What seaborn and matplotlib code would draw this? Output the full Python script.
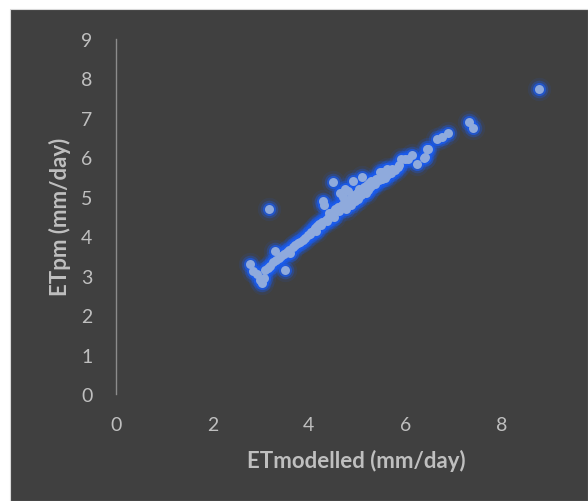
import matplotlib
matplotlib.use("Agg")
import matplotlib.pyplot as plt
import seaborn as sns
import pandas as pd
from matplotlib.patches import Rectangle

et_modelled = [2.78, 2.85, 2.92, 2.98, 3.02, 3.08, 3.10, 3.15, 3.20, 3.18, 3.25, 3.30, 3.32, 3.38,
               3.42, 3.48, 3.50, 3.55, 3.58, 3.62, 3.68, 3.72, 3.78, 3.82, 3.88, 3.92, 3.98, 4.02,
               4.05, 4.10, 4.12, 4.15, 4.18, 4.22, 4.25, 4.28, 4.30, 4.32, 4.35, 4.38, 4.40, 4.42,
               4.45, 4.48, 4.50, 4.52, 4.55, 4.50, 4.60, 4.62, 4.65, 4.68, 4.70, 4.72, 4.75, 4.78,
               4.80, 4.82, 4.85, 4.88, 4.90, 4.92, 4.95, 4.98, 5.00, 5.02, 5.05, 5.08, 5.10, 5.12,
               5.15, 5.18, 5.20, 5.22, 5.25, 5.28, 5.30, 5.32, 5.35, 5.38, 5.40, 5.45, 5.48, 5.52,
               5.52, 5.58, 5.62, 5.62, 5.65, 5.70, 5.72, 5.78, 5.85, 5.88, 5.92, 6.00, 6.05, 6.14,
               6.24, 6.39, 6.41, 6.45, 6.47, 6.66, 6.76, 6.89, 7.33, 7.40, 8.78]
et_pm = [3.30, 3.12, 3.05, 2.90, 2.82, 2.95, 3.15, 3.20, 3.25, 4.70, 3.35, 3.62, 3.40, 3.45,
         3.50, 3.55, 3.15, 3.60, 3.65, 3.58, 3.72, 3.78, 3.82, 3.85, 3.90, 3.95, 4.02, 4.05,
         4.10, 4.15, 4.20, 4.12, 4.25, 4.30, 4.28, 4.35, 4.90, 4.80, 4.40, 4.38, 4.45, 4.60,
         4.50, 4.55, 4.62, 4.48, 4.68, 5.37, 4.75, 4.65, 5.10, 4.80, 5.00, 4.85, 5.20, 4.70,
         4.90, 5.15, 4.95, 4.80, 5.05, 5.40, 4.90, 5.00, 5.10, 4.95, 5.20, 5.05, 5.50, 5.12,
         5.25, 5.10, 5.30, 5.18, 5.35, 5.25, 5.40, 5.30, 5.38, 5.32, 5.45, 5.42, 5.62, 5.63,
         5.46, 5.48, 5.71, 5.55, 5.65, 5.60, 5.70, 5.68, 5.76, 5.80, 5.95, 5.96, 5.95, 6.07,
         5.84, 5.99, 6.02, 6.22, 6.22, 6.47, 6.52, 6.62, 6.90, 6.75, 7.72]

x_ticks = [0, 2, 4, 6, 8, 10]
y_ticks = [0, 1, 2, 3, 4, 5, 6, 7, 8, 9]

df = pd.DataFrame({"ETmodelled": et_modelled, "ETpm": et_pm})

W, H = 588, 502
fig = plt.figure(figsize=(W / 100, H / 100), dpi=100)
fig.patch.set_facecolor("white")
bg = Rectangle((10 / W, 0), 1 - 10 / W, 1 - 10 / H, transform=fig.transFigure,
               facecolor="#404040", edgecolor="#d9d9d9", linewidth=0.8, zorder=-10)
fig.patches.append(bg)

AX_L, AX_R, AX_T, AX_B = 116, 598, 40, 395
ax = fig.add_axes([AX_L / W, (H - AX_B) / H, (AX_R - AX_L) / W, (AX_B - AX_T) / H])
ax.set_facecolor("none")
ax.set_zorder(1)

# glow layers
sns.scatterplot(data=df, x="ETmodelled", y="ETpm", ax=ax, s=280, color="#1a5cf0",
                alpha=0.10, linewidth=0, legend=False, zorder=2)
sns.scatterplot(data=df, x="ETmodelled", y="ETpm", ax=ax, s=160, color="#1a5cf0",
                alpha=0.30, linewidth=0, legend=False, zorder=3)
sns.scatterplot(data=df, x="ETmodelled", y="ETpm", ax=ax, s=90, color="#1a5cf0",
                alpha=0.65, linewidth=0, legend=False, zorder=3)
sns.scatterplot(data=df, x="ETmodelled", y="ETpm", ax=ax, s=42, color="#8faadc",
                alpha=1.0, linewidth=0, legend=False, zorder=4)

ax.set_xlim(0, 10)
ax.set_ylim(0, 9)
ax.set_xticks(x_ticks)
ax.set_yticks(y_ticks)

font = "Lato"
tick_color = "#bfbfbf"
for lab in ax.get_xticklabels() + ax.get_yticklabels():
    lab.set_fontfamily(font)
    lab.set_fontsize(14)
    lab.set_color(tick_color)
ax.tick_params(axis="both", length=0)
ax.tick_params(axis="x", pad=16)
ax.tick_params(axis="y", pad=17)

for s in ["top", "right", "bottom"]:
    ax.spines[s].set_visible(False)
ax.spines["left"].set_color("#8c8c8c")
ax.spines["left"].set_linewidth(1.0)
ax.grid(False)

ax.set_xlabel("ETmodelled (mm/day)", fontfamily=font, fontsize=16, fontweight="bold",
              color=tick_color)
ax.set_ylabel("ETpm (mm/day)", fontfamily=font, fontsize=16, fontweight="bold",
              color=tick_color)
ax.xaxis.label.set_va("center")
ax.yaxis.label.set_va("center")
ax.yaxis.label.set_ha("center")
ax.xaxis.set_label_coords((356 - AX_L) / (AX_R - AX_L), -(461 - AX_B) / (AX_B - AX_T))
ax.yaxis.set_label_coords(-(AX_L - 60) / (AX_R - AX_L), (AX_B - 217) / (AX_B - AX_T))

fig.savefig("out.png", dpi=100, facecolor=fig.get_facecolor())
